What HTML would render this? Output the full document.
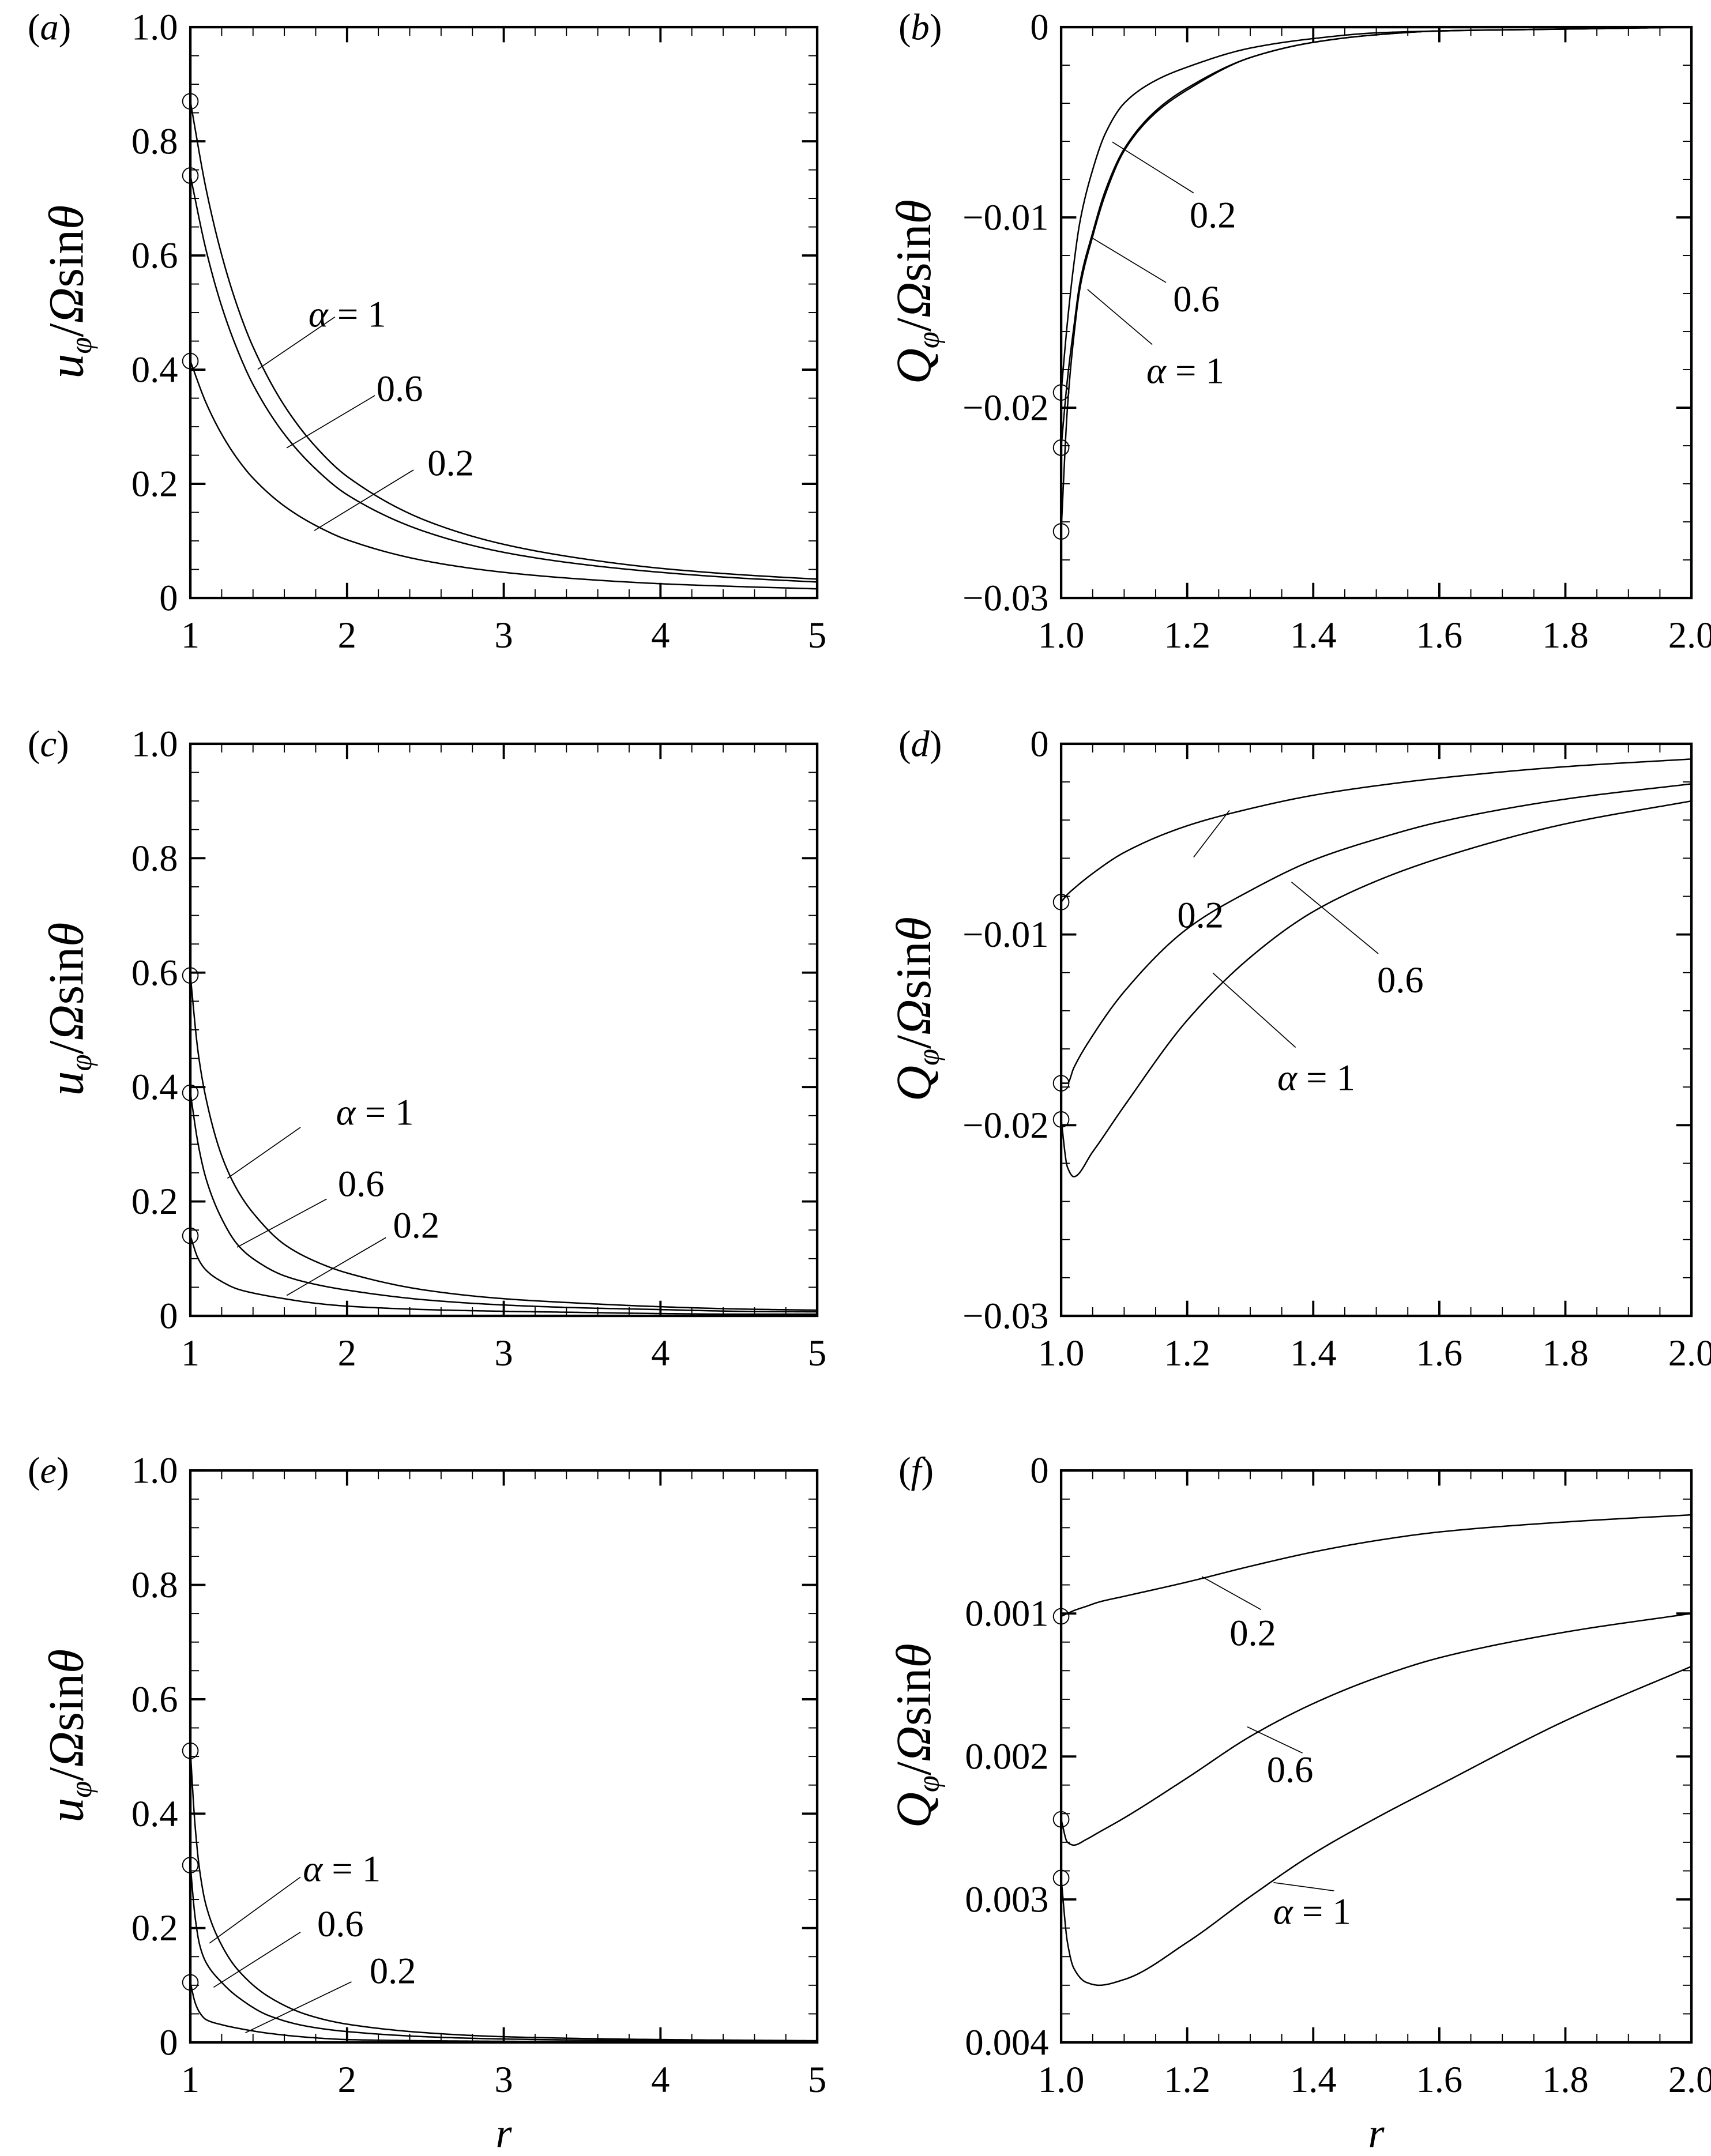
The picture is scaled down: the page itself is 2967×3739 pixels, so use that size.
<!DOCTYPE html>
<html><head><meta charset="utf-8"><style>
html,body{margin:0;padding:0;background:#fff}
svg{display:block}
svg text{font-family:"Liberation Serif","Times New Roman",serif;fill:#000}
</style></head><body>
<svg id="fig" xmlns="http://www.w3.org/2000/svg" width="2967" height="3739" viewBox="0 0 1241.4 1564.4" font-family="Liberation Serif, serif"></svg>
<script>
// ---- data ----
const rA = [1,1.1,1.2,1.3,1.4,1.6,1.8,2,2.5,3,3.5,4,4.5,5];
const a_alpha1 = [0.87,0.717,0.601,0.511,0.440,0.337,0.265,0.213,0.136,0.094,0.069,0.052,0.041,0.033];
const a_alpha06 = [0.74,0.61,0.511,0.435,0.374,0.287,0.226,0.181,0.116,0.080,0.059,0.045,0.035,0.028];
const a_alpha02 = [0.415,0.342,0.287,0.244,0.21,0.161,0.127,0.102,0.065,0.045,0.033,0.025,0.020,0.016];

const rB = [1,1.01,1.02,1.03,1.05,1.07,1.1,1.15,1.2,1.3,1.4,1.5,1.6,1.8,2];
const b_alpha02 = [-0.0192,-0.0155,-0.0125,-0.0102,-0.0075,-0.0056,-0.0040,-0.0028,-0.0021,-0.0011,-0.0006,-0.0003,-0.0002,-0.0001,0];
const b_alpha06 = [-0.0221,-0.0185,-0.0158,-0.0134,-0.0108,-0.0086,-0.0064,-0.0044,-0.0032,-0.0016,-0.0008,-0.0004,-0.0002,-0.0001,0];
const b_alpha1 = [-0.0265,-0.0200,-0.0163,-0.0137,-0.0110,-0.0088,-0.0065,-0.0045,-0.0033,-0.0016,-0.0008,-0.0004,-0.0002,-0.0001,0];

const rC = [1,1.05,1.1,1.2,1.3,1.4,1.6,1.8,2,2.5,3,3.5,4,4.5,5];
const c_alpha1 = [0.595,0.46,0.38,0.28,0.22,0.18,0.125,0.095,0.075,0.045,0.03,0.022,0.016,0.012,0.01];
const c_alpha06 = [0.39,0.3,0.24,0.17,0.125,0.1,0.07,0.055,0.045,0.028,0.019,0.014,0.011,0.008,0.007];
const c_alpha02 = [0.14,0.1,0.08,0.06,0.047,0.04,0.03,0.022,0.017,0.011,0.008,0.006,0.004,0.003,0.003];

const rD = [1,1.01,1.02,1.05,1.1,1.2,1.3,1.4,1.5,1.6,1.8,2];
const d_alpha02 = [-0.0083,-0.0079,-0.0076,-0.0068,-0.0057,-0.0043,-0.0034,-0.0027,-0.0022,-0.0018,-0.0012,-0.0008];
const d_alpha06 = [-0.0178,-0.0178,-0.0170,-0.0153,-0.0130,-0.0097,-0.0077,-0.0061,-0.0050,-0.0041,-0.0029,-0.0021];
const d_alpha1 = [-0.0197,-0.0222,-0.0227,-0.0214,-0.0190,-0.0145,-0.0112,-0.0088,-0.0072,-0.0060,-0.0042,-0.0030];

const rE = [1,1.03,1.06,1.1,1.2,1.3,1.5,1.75,2,2.5,3,4,5];
const e_alpha1 = [0.51,0.38,0.3,0.24,0.17,0.128,0.08,0.048,0.032,0.017,0.01,0.005,0.003];
const e_alpha06 = [0.31,0.22,0.17,0.14,0.105,0.08,0.047,0.028,0.019,0.01,0.006,0.003,0.002];
const e_alpha02 = [0.105,0.07,0.052,0.04,0.031,0.025,0.016,0.009,0.005,0.003,0.002,0.001,0.0005];

const rF = [1,1.01,1.02,1.04,1.06,1.1,1.2,1.3,1.4,1.5,1.6,1.8,2];
const f_alpha02 = [-0.00102,-0.00100,-0.00098,-0.00095,-0.00092,-0.00088,-0.00078,-0.00067,-0.00057,-0.00049,-0.00043,-0.00036,-0.00031];
const f_alpha06 = [-0.00244,-0.00260,-0.00262,-0.00258,-0.00253,-0.00243,-0.00215,-0.00186,-0.00163,-0.00145,-0.00131,-0.00113,-0.00100];
const f_alpha1 = [-0.00285,-0.00330,-0.00348,-0.00358,-0.00360,-0.00356,-0.00330,-0.00298,-0.00268,-0.00243,-0.00220,-0.00175,-0.00137];

const xTicksU = ["1","2","3","4","5"];
const yTicksU = ["0","0.2","0.4","0.6","0.8","1.0"];
const xTicksQ = ["1.0","1.2","1.4","1.6","1.8","2.0"];
const yTicksQ = ["0","\u22120.01","\u22120.02","\u22120.03"];
const yTicksF = ["0","0.001","0.002","0.003","0.004"];

// ---- drawing ----
const NS = "http://www.w3.org/2000/svg";
const svg = document.getElementById('fig');
function mk(tag, attrs, parent){
  const el = document.createElementNS(NS, tag);
  for (const k in attrs) el.setAttribute(k, attrs[k]);
  (parent||svg).appendChild(el);
  return el;
}
function monoPts(xs, ys, X, Y){
  const n=xs.length, d=[], m=new Array(n);
  for(let i=0;i<n-1;i++) d.push((ys[i+1]-ys[i])/(xs[i+1]-xs[i]));
  m[0]=d[0]; m[n-1]=d[n-2];
  for(let i=1;i<n-1;i++){
    if(d[i-1]*d[i]<=0) m[i]=0;
    else { const h0=xs[i]-xs[i-1], h1=xs[i+1]-xs[i];
      m[i]=3*(h0+h1)/((2*h1+h0)/d[i-1]+(h1+2*h0)/d[i]); }
  }
  const pts=[];
  for(let i=0;i<n-1;i++){
    const h=xs[i+1]-xs[i], steps=30;
    for(let k=0;k<(i===n-2?steps+1:steps);k++){
      const t=k/steps, t2=t*t, t3=t2*t;
      const y=(2*t3-3*t2+1)*ys[i]+(t3-2*t2+t)*h*m[i]+(-2*t3+3*t2)*ys[i+1]+(t3-t2)*h*m[i+1];
      pts.push([X(xs[i]+t*h),Y(y)]);
    }
  }
  return "M"+pts.map(p=>p[0].toFixed(2)+","+p[1].toFixed(2)).join(" L");
}

const L1=138.1, R1=592.9, L2=769.9, R2=1227.2;
const rows=[[19.7,433.9],[539.7,954.8],[1067,1482]];

const panels = [
 {id:'a', x0:L1,x1:R1,y0:rows[0][0],y1:rows[0][1], xd:[1,5], yd:[0,1], xMaj:1,xMin:0.2,yMaj:0.2,yMin:0.05, xl:xTicksU, yl:yTicksU, r:rA, series:[a_alpha1,a_alpha06,a_alpha02], ylab:'u',
  labels:[["α = 1",243,230,187,268],["0.6",272,287,208,325],["0.2",300,341,228,385]]},
 {id:'b', x0:L2,x1:R2,y0:rows[0][0],y1:rows[0][1], xd:[1,2], yd:[-0.03,0], xMaj:0.2,xMin:0.05,yMaj:0.01,yMin:0.002, xl:xTicksQ, yl:yTicksQ, r:rB, series:[b_alpha02,b_alpha06,b_alpha1], ylab:'Q',
  labels:[["0.2",866,140,807,103],["0.6",846,205,793,173],["α = 1",836,250,789,210]]},
 {id:'c', x0:L1,x1:R1,y0:rows[1][0],y1:rows[1][1], xd:[1,5], yd:[0,1], xMaj:1,xMin:0.2,yMaj:0.2,yMin:0.05, xl:xTicksU, yl:yTicksU, r:rC, series:[c_alpha1,c_alpha06,c_alpha02], ylab:'u',
  labels:[["α = 1",218,818,165,855],["0.6",237,870,172,905],["0.2",280,898,208,940]]},
 {id:'d', x0:L2,x1:R2,y0:rows[1][0],y1:rows[1][1], xd:[1,2], yd:[-0.03,0], xMaj:0.2,xMin:0.05,yMaj:0.01,yMin:0.002, xl:xTicksQ, yl:yTicksQ, r:rD, series:[d_alpha02,d_alpha06,d_alpha1], ylab:'Q',
  labels:[["0.2",866,622,892,588],["0.6",1000,692,937,640],["α = 1",940,760,880,706]]},
 {id:'e', x0:L1,x1:R1,y0:rows[2][0],y1:rows[2][1], xd:[1,5], yd:[0,1], xMaj:1,xMin:0.2,yMaj:0.2,yMin:0.05, xl:xTicksU, yl:yTicksU, r:rE, series:[e_alpha1,e_alpha06,e_alpha02], ylab:'u', xtitle:true,
  labels:[["α = 1",218,1362,152,1410],["0.6",218,1402,155,1442],["0.2",255,1438,178,1475]]},
 {id:'f', x0:L2,x1:R2,y0:rows[2][0],y1:rows[2][1], xd:[1,2], yd:[-0.004,0], xMaj:0.2,xMin:0.05,yMaj:0.001,yMin:0.0002, xl:xTicksQ, yl:yTicksF, r:rF, series:[f_alpha02,f_alpha06,f_alpha1], ylab:'Q', xtitle:true,
  labels:[["0.2",915,1168,872,1144],["0.6",945,1272,905,1253],["α = 1",968,1372,924,1366]]}
];
const labelPos = {
 a:[[252,237],[290,291],[327,345]], b:[[880,165],[868,226],[860,278]], c:[[272,816],[262,868],[302,898]],
 d:[[871,673],[1016,720],[955,791]], e:[[248,1365],[247,1405],[285,1439]], f:[[909,1194],[936,1293],[952,1396]]
};
const seriesNames=['series-1','series-2','series-3'];
const FS=27;

panels.forEach(p=>{
  const g = mk('g',{});
  
  
  const X = v => p.x0 + (v-p.xd[0])/(p.xd[1]-p.xd[0])*(p.x1-p.x0);
  const Y = v => p.y1 - (v-p.yd[0])/(p.yd[1]-p.yd[0])*(p.y1-p.y0);
  const nxm = Math.round((p.xd[1]-p.xd[0])/p.xMin);
  for(let i=0;i<=nxm;i++){
    const v=p.xd[0]+i*p.xMin, x=X(v);
    const major = Math.abs((v-p.xd[0])/p.xMaj - Math.round((v-p.xd[0])/p.xMaj))<1e-6;
    const len = major?11:6.3, sw=major?1.6:0.8;
    mk('line',{x1:x,y1:p.y1,x2:x,y2:p.y1-len,stroke:'#000','stroke-width':sw},g);
    mk('line',{x1:x,y1:p.y0,x2:x,y2:p.y0+len,stroke:'#000','stroke-width':sw},g);
  }
  const nym = Math.round((p.yd[1]-p.yd[0])/p.yMin);
  for(let i=0;i<=nym;i++){
    const v=p.yd[0]+i*p.yMin, y=Y(v);
    const major = Math.abs((v-p.yd[0])/p.yMaj - Math.round((v-p.yd[0])/p.yMaj))<1e-6;
    const len = major?11:6.3, sw=major?1.6:0.8;
    mk('line',{x1:p.x0,y1:y,x2:p.x0+len,y2:y,stroke:'#000','stroke-width':sw},g);
    mk('line',{x1:p.x1,y1:y,x2:p.x1-len,y2:y,stroke:'#000','stroke-width':sw},g);
  }
  const fr = mk('rect',{x:p.x0,y:p.y0,width:p.x1-p.x0,height:p.y1-p.y0,fill:'none',stroke:'#000','stroke-width':1.8},g);
  
  
  p.xl.forEach((t,i)=>{
    const v=p.xd[0]+i*p.xMaj;
    const tx = mk('text',{x:X(v),y:p.y1+36,'font-size':FS,'text-anchor':'middle'},g);
    tx.textContent=t;
    
    
  });
  p.yl.forEach((t,i)=>{
    const v = (p.yd[0]>=0) ? p.yd[0]+i*p.yMaj : p.yd[1]-i*p.yMaj;
    const ty = mk('text',{x:p.x0-9,y:Y(v)+9,'font-size':FS,'text-anchor':'end'},g);
    ty.textContent=t;
    
    
  });
  p.series.forEach((s,si)=>{
    const path = mk('path',{d:monoPts(p.r,s,X,Y),fill:'none',stroke:'#000','stroke-width':1.05,'stroke-linejoin':'round'},g);
    
    
    const c = mk('circle',{cx:X(p.r[0]),cy:Y(s[0]),r:5.6,fill:'none',stroke:'#000','stroke-width':0.8},g);
    
    
  });
  p.labels.forEach((lb,li)=>{
    const ln = mk('line',{x1:lb[1],y1:lb[2],x2:lb[3],y2:lb[4],stroke:'#000','stroke-width':0.7},g);
    
    
    const pos = labelPos[p.id][li];
    const t = mk('text',{x:pos[0],y:pos[1],'font-size':FS,'text-anchor':'middle'},g);
    if(lb[0].indexOf('α')===0){
      const a = mk('tspan',{'font-style':'italic'},t); a.textContent='α';
      const b = mk('tspan',{},t); b.textContent=' = 1';
    } else t.textContent=lb[0];
    
    
  });
  const pl = mk('text',{x:p.x0-118,y:p.y0+9,'font-size':FS},g);
  const o1=mk('tspan',{},pl); o1.textContent='(';
  const o2=mk('tspan',{'font-style':'italic'},pl); o2.textContent=p.id;
  const o3=mk('tspan',{},pl); o3.textContent=')';
  
  
  const cy=(p.y0+p.y1)/2 - 15, cx = (p.id==='a'||p.id==='c'||p.id==='e') ? p.x0-78 : p.x0-95;
  const yt = mk('text',{x:cx,y:cy,'font-size':36,'text-anchor':'middle',transform:'rotate(-90 '+cx+' '+cy+')'},g);
  const s1=mk('tspan',{'font-style':'italic'},yt); s1.textContent=p.ylab;
  const s2=mk('tspan',{'font-style':'italic','font-size':22,dy:6},yt); s2.textContent='φ';
  const s3=mk('tspan',{dy:-6},yt); s3.textContent='/';
  const s4=mk('tspan',{'font-style':'italic'},yt); s4.textContent='Ω';
  const s5=mk('tspan',{},yt); s5.textContent='sin';
  const s6=mk('tspan',{'font-style':'italic'},yt); s6.textContent='θ';
  
  
  if(p.xtitle){
    const xt = mk('text',{x:(p.x0+p.x1)/2,y:1558,'font-size':30,'font-style':'italic','text-anchor':'middle'},g);
    xt.textContent='r';
    
    
  }
});
</script>
</body></html>
